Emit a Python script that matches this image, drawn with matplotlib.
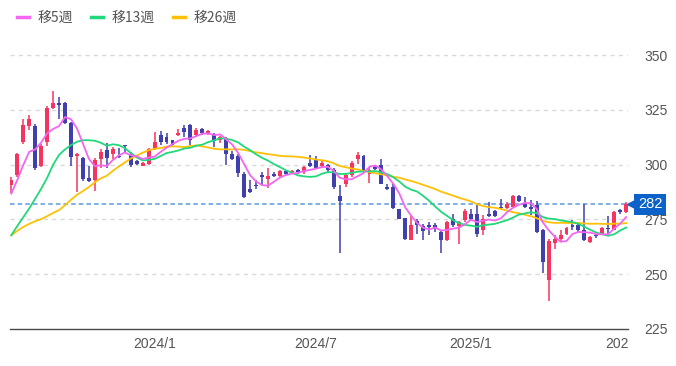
import numpy as np
import pandas as pd
import matplotlib
matplotlib.use("Agg")
from matplotlib import pyplot as plt
from matplotlib.lines import Line2D
from matplotlib.transforms import Bbox, TransformedBbox, blended_transform_factory

plt.rcParams['font.family'] = ['Noto Sans CJK JP', 'DejaVu Sans']

# weekly candles (open, high, low, close)
opens = [290.6, 295.2, 310.3, 317.7, 317.7, 299.5, 310.4, 326.0, 328.0, 328.0,
         319.0, 304.0, 303.0, 293.8, 293.0, 302.8, 306.6, 304.7, 304.0, 309.0,
         304.8, 301.7, 299.6, 300.5, 307.0, 313.5, 312.7, 311.2, 313.5, 316.7,
         318.0, 313.5, 316.5, 314.3, 314.2, 311.5, 312.4, 304.7, 303.9, 296.0,
         288.7, 290.6, 295.2, 293.5, 295.7, 294.7, 297.2, 296.3, 297.5, 296.5,
         300.8, 302.8, 299.3, 299.8, 297.5, 285.6, 291.4, 295.5, 302.8, 303.9,
         295.7, 299.0, 299.8, 289.9, 290.0, 279.6, 275.6, 265.5, 274.3, 271.9,
         272.4, 272.4, 269.3, 265.5, 275.0, 271.9, 274.7, 277.7, 277.7, 270.0,
         277.7, 278.9, 280.7, 280.3, 280.8, 285.8, 282.6, 280.7, 281.5, 270.1,
         247.3, 264.3, 265.9, 268.3, 272.4, 272.7, 270.1, 264.6, 268.1, 268.6,
         271.3, 270.1, 279.5, 278.4]
highs = [294.4, 305.5, 320.8, 322.6, 318.5, 309.5, 327.0, 333.6, 331.0, 328.5,
         319.5, 305.4, 303.5, 299.3, 303.0, 307.0, 310.0, 308.1, 307.7, 309.2,
         306.0, 302.0, 301.2, 307.5, 314.8, 315.3, 314.5, 311.5, 316.5, 318.0,
         318.5, 316.6, 317.0, 316.0, 314.3, 313.0, 312.5, 306.5, 305.0, 296.5,
         293.0, 293.2, 296.7, 298.4, 296.7, 297.5, 297.8, 297.8, 298.0, 299.5,
         304.3, 303.9, 301.6, 300.5, 298.3, 290.6, 296.0, 301.6, 305.9, 304.3,
         299.0, 299.8, 302.8, 291.4, 291.0, 280.0, 275.9, 277.0, 275.0, 273.0,
         273.9, 273.5, 270.0, 274.5, 277.3, 274.5, 280.0, 280.0, 282.3, 277.0,
         283.0, 279.5, 284.5, 283.0, 286.3, 286.3, 285.5, 284.0, 283.5, 270.5,
         266.0, 267.8, 270.0, 271.6, 274.8, 274.0, 282.0, 267.5, 268.6, 271.8,
         276.5, 278.8, 280.0, 283.0]
lows = [287.0, 294.5, 309.4, 315.8, 297.5, 299.0, 308.5, 325.5, 320.8, 318.5,
        299.3, 287.6, 292.8, 292.3, 288.0, 298.5, 298.4, 302.4, 303.3, 305.3,
        299.0, 300.0, 299.4, 300.0, 306.6, 309.0, 309.5, 308.5, 313.0, 312.7,
        309.0, 312.7, 313.8, 313.5, 308.0, 310.0, 299.8, 302.0, 294.5, 284.7,
        287.1, 289.0, 290.6, 289.3, 294.3, 294.0, 295.5, 295.8, 296.0, 296.0,
        299.0, 298.0, 298.7, 296.7, 289.0, 259.7, 290.0, 294.6, 300.5, 296.7,
        291.7, 297.5, 291.0, 288.4, 279.7, 275.0, 265.8, 265.5, 268.6, 265.8,
        267.8, 269.4, 259.7, 265.0, 271.5, 263.9, 274.0, 274.5, 266.8, 268.0,
        276.0, 276.0, 280.0, 280.0, 280.5, 283.0, 280.3, 277.0, 268.8, 250.6,
        237.8, 261.7, 265.0, 267.8, 270.0, 269.5, 265.0, 264.3, 266.5, 268.0,
        268.0, 270.0, 277.5, 277.8]
closes = [293.0, 304.8, 318.0, 320.8, 298.3, 308.6, 326.0, 328.0, 327.3, 319.0,
          303.6, 305.0, 293.4, 292.6, 302.0, 305.9, 303.0, 307.0, 303.6, 308.4,
          299.8, 300.5, 300.8, 307.0, 310.4, 310.4, 310.4, 308.9, 314.7, 314.8,
          311.2, 315.8, 314.5, 315.3, 310.9, 312.7, 304.7, 302.5, 296.3, 285.3,
          287.6, 290.2, 294.2, 294.7, 294.7, 297.0, 296.0, 297.2, 296.5, 298.9,
          299.6, 298.7, 300.8, 297.5, 289.9, 283.5, 295.2, 300.8, 304.3, 297.2,
          297.8, 298.2, 291.4, 289.0, 280.2, 275.4, 266.3, 272.4, 272.4, 269.6,
          271.6, 270.7, 265.5, 273.9, 272.4, 273.9, 278.9, 275.4, 268.6, 275.4,
          276.6, 276.6, 280.3, 282.3, 285.8, 283.5, 280.8, 280.0, 269.3, 255.6,
          265.2, 266.3, 267.8, 270.9, 271.6, 270.1, 265.5, 266.9, 267.4, 271.1,
          270.5, 278.4, 278.4, 282.0]

# moving-average values for the first weeks (window reaches before the chart)
ma5_head = [286.8, 293.0, 299.8, 305.9]
ma13_head = [267.8, 272.0, 276.0, 280.0, 284.5, 289.0, 294.0, 300.0, 304.5,
             307.0, 309.0, 310.5]
ma26_head = [267.8, 269.8, 271.6, 273.0, 274.2, 275.2, 276.5, 278.0, 279.3,
             281.5, 284.0, 286.3, 288.0, 289.8, 292.0, 293.8, 295.0, 297.2,
             299.2, 301.0, 302.8, 304.2, 305.5, 306.6, 307.3]

tick_idx = [24, 51, 77, 103]
tick_labels = ["2024/1", "2024/7", "2025/1", "2025/7"]
y_ticks = [250, 275, 300, 325, 350]
last_price = 282
legend_labels = ["移5週", "移13週", "移26週"]

UP = "#f5355f"
DOWN = "#3f40ad"
C5, C13, C26 = "#f266f0", "#21d87a", "#ffc107"

df = pd.DataFrame({"open": opens, "high": highs, "low": lows, "close": closes})
ma5 = df["close"].rolling(5).mean().to_numpy()
ma5[:len(ma5_head)] = ma5_head
ma13 = df["close"].rolling(13).mean().to_numpy()
ma13[:len(ma13_head)] = ma13_head
ma26 = df["close"].rolling(26).mean().to_numpy()
ma26[:len(ma26_head)] = ma26_head

x = np.arange(len(df))
up = df["close"] >= df["open"]
colors = np.where(up, UP, DOWN)

fig = plt.figure(figsize=(6.76, 3.66), dpi=100)
ax = fig.add_axes([9.5 / 676, 37 / 366, (628 - 9.5) / 676, 289 / 366])

ax.vlines(x, df["low"], df["high"], colors=colors, linewidth=1.1, zorder=3)
body = (df["close"] - df["open"]).to_numpy()
body = np.where(np.abs(body) < 0.5, np.sign(body + 1e-9) * 0.5, body)
ax.bar(x, body, bottom=df["open"], width=0.66, color=colors, zorder=4)

ax.plot(x, ma26, color=C26, lw=1.3, zorder=5)
ax.plot(x, ma13, color=C13, lw=1.3, zorder=5)
ax.plot(x, ma5, color=C5, lw=1.3, zorder=5)

ax.axhline(last_price, color="#5b9be0", lw=1.1, ls=(0, (3, 2)), zorder=2)

ax.set_xlim(-0.3, 103.3)
ax.set_ylim(225, 225 + 289 / 2.19)
for v in y_ticks:
    ax.axhline(v, color="#d9d9d9", lw=1, ls=(0, (3, 3)), zorder=1)

for s in ["top", "left", "right"]:
    ax.spines[s].set_visible(False)
ax.spines["bottom"].set_color("#4a4a4a")
ax.spines["bottom"].set_linewidth(1.0)

ax.yaxis.tick_right()
ax.set_yticks([225] + y_ticks)
ax.tick_params(axis="y", length=0, pad=12, labelsize=10, labelcolor="#555555")
ax.set_xticks(tick_idx)
ax.set_xticklabels(tick_labels)
ax.tick_params(axis="x", length=0, pad=6, labelsize=10, labelcolor="#555555")
for lab in ax.get_xticklabels() + ax.get_yticklabels():
    lab.set_fontfamily(["Liberation Sans", "DejaVu Sans"])
clip = TransformedBbox(Bbox([[0, -1], [1, 2]]), ax.transAxes)
for t in ax.xaxis.get_major_ticks():
    t.label1.set_clip_box(clip)
    t.label1.set_clip_on(True)

# last price tag
tr = blended_transform_factory(ax.transAxes, ax.transData)
ax.text(1.0 + 22 / 618.5, last_price, str(last_price), transform=tr,
        ha="center", va="center", color="white", fontsize=10.5,
        fontfamily=["Liberation Sans", "DejaVu Sans"], zorder=10, clip_on=False,
        bbox=dict(boxstyle="square,pad=0.25", fc="#0c62c8", ec="none"))
ax.plot([1.0 + 4 / 618.5], [last_price], marker="<", ms=7, color="#0c62c8",
        transform=tr, clip_on=False, zorder=10)

handles = [Line2D([], [], color=c, lw=2.5) for c in (C5, C13, C26)]
fig.legend(handles, legend_labels, loc="center left", bbox_to_anchor=(4 / 676, 1 - 18 / 366),
           ncol=3, frameon=False, handlelength=0.9, handletextpad=0.6,
           columnspacing=1.3, fontsize=10, labelcolor="#555555")

fig.savefig("out.png", dpi=100)
